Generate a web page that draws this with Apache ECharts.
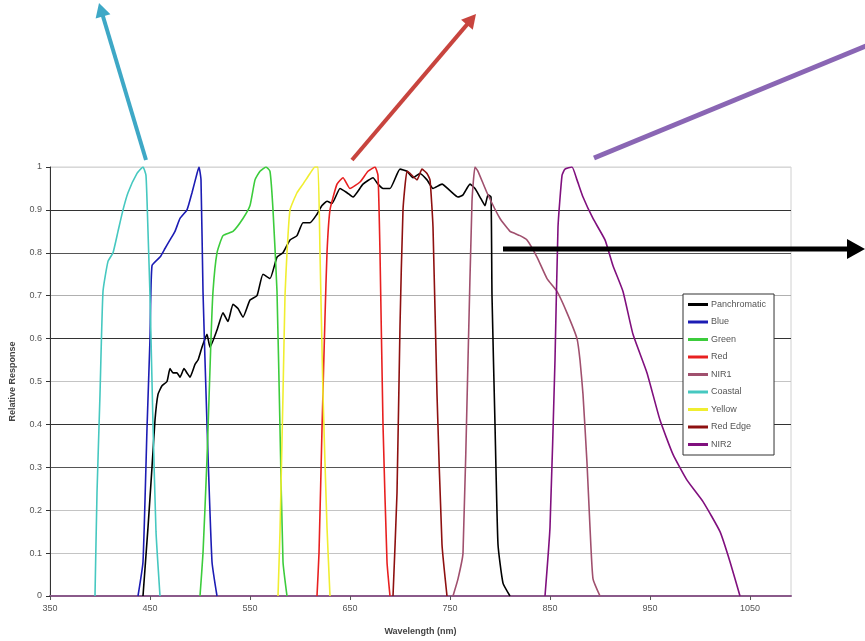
<!DOCTYPE html>
<html>
<head>
<meta charset="utf-8">
<script src="https://cdn.jsdelivr.net/npm/echarts@6/dist/echarts.min.js"></script>
<style>
html,body{margin:0;padding:0;background:#fff;}
#c{width:865px;height:641px;}
</style>
</head>
<body>
<div id="c"></div>
<script>
// ---- data: [wavelength nm, relative response] ----
const seriesNames = ['Panchromatic','Blue','Green','Red','NIR1','Coastal','Yellow','Red Edge','NIR2'];
const xTicks = [350,450,550,650,750,850,950,1050];
const yTicks = [0,0.1,0.2,0.3,0.4,0.5,0.6,0.7,0.8,0.9,1];

const panchromatic = [[443,0],[448,0.16],[452,0.3],[455,0.41],[458,0.47],[462,0.49],[467,0.5],[470,0.53],[473,0.52],[477,0.52],[480,0.51],[484,0.53],[487,0.52],[490,0.51],[495,0.54],[498,0.55],[502,0.58],[507,0.61],[510,0.58],[517,0.62],[523,0.66],[528,0.64],[533,0.68],[538,0.67],[543,0.65],[550,0.69],[557,0.7],[563,0.75],[570,0.74],[577,0.79],[583,0.8],[590,0.83],[597,0.84],[603,0.87],[610,0.87],[617,0.89],[622,0.91],[627,0.92],[632,0.915],[640,0.95],[647,0.94],[653,0.93],[663,0.96],[673,0.975],[678,0.96],[683,0.95],[690,0.95],[700,0.995],[707,0.99],[713,0.975],[720,0.985],[727,0.97],[733,0.95],[742,0.96],[750,0.945],[758,0.93],[763,0.935],[770,0.96],[775,0.95],[780,0.93],[785,0.91],[788,0.935],[791,0.93],[792,0.7],[795,0.4],[798,0.12],[803,0.03],[810,0]];
const blue = [[438,0],[443,0.08],[447,0.39],[450,0.6],[452,0.77],[460,0.79],[465,0.81],[470,0.83],[475,0.85],[480,0.88],[487,0.9],[492,0.94],[497,0.985],[499,1.0],[501,0.97],[503,0.71],[507,0.4],[512,0.08],[517,0]];
const green = [[500,0],[503,0.1],[507,0.32],[511,0.6],[513,0.71],[517,0.8],[523,0.84],[533,0.85],[543,0.88],[550,0.91],[555,0.97],[560,0.99],[566,1.0],[570,0.99],[573,0.9],[577,0.71],[580,0.39],[583,0.08],[587,0]];
const red = [[617,0],[619,0.1],[622,0.39],[625,0.65],[627,0.8],[630,0.9],[637,0.96],[643,0.975],[650,0.95],[660,0.965],[668,0.99],[675,1.0],[678,0.98],[680,0.8],[683,0.4],[687,0.08],[690,0]];
const nir1 = [[753,0],[758,0.04],[763,0.1],[768,0.55],[772,0.92],[775,1.0],[778,0.99],[787,0.94],[800,0.88],[810,0.85],[815,0.845],[820,0.84],[827,0.83],[837,0.79],[847,0.74],[857,0.71],[867,0.66],[877,0.6],[880,0.55],[883,0.47],[887,0.31],[890,0.16],[893,0.04],[900,0]];
const coastal = [[395,0],[397,0.24],[400,0.47],[403,0.71],[408,0.78],[413,0.8],[418,0.85],[423,0.9],[428,0.94],[437,0.985],[443,1.0],[446,0.98],[448,0.85],[450,0.7],[453,0.4],[456,0.15],[460,0]];
const yellow = [[578,0],[580,0.15],[583,0.47],[585,0.7],[587,0.8],[590,0.9],[597,0.94],[603,0.96],[610,0.985],[615,1.0],[618,1.0],[620,0.8],[623,0.47],[627,0.16],[630,0]];
const redEdge = [[693,0],[697,0.24],[700,0.63],[703,0.9],[707,0.99],[710,0.985],[717,0.97],[722,0.995],[727,0.985],[730,0.97],[733,0.86],[737,0.47],[742,0.12],[747,0]];
const nir2 = [[845,0],[850,0.16],[855,0.55],[858,0.86],[862,0.98],[865,0.995],[872,1.0],[877,0.97],[883,0.93],[893,0.88],[905,0.83],[913,0.77],[923,0.71],[933,0.61],[947,0.52],[960,0.41],[973,0.33],[987,0.27],[1003,0.22],[1020,0.15],[1030,0.08],[1040,0]];

const seriesData = [panchromatic, blue, green, red, nir1, coastal, yellow, redEdge, nir2];
const seriesColors = ['#000000','#1c1cb4','#3ccc3c','#e82020','#a0506e','#46c8c0','#f0ee30','#8e1010','#80107e'];

// ---- chart ----
const chart = echarts.init(document.getElementById('c'), null, {renderer:'canvas'});

function arrow(x1,y1,x2,y2,color,width,head){
  const els = [{type:'line', shape:{x1:x1,y1:y1,x2:x2,y2:y2}, style:{stroke:color,lineWidth:width,lineCap:'butt'}, z:100}];
  if (head){
    const a = Math.atan2(y2-y1,x2-x1), L = head, W = head*0.55;
    const bx = x2 - L*Math.cos(a), by = y2 - L*Math.sin(a);
    els[0].shape.x2 = bx + 1*Math.cos(a); els[0].shape.y2 = by + 1*Math.sin(a);
    els.push({type:'polygon', shape:{points:[[x2,y2],[bx + W*Math.sin(a), by - W*Math.cos(a)],[bx - W*Math.sin(a), by + W*Math.cos(a)]]}, style:{fill:color}, z:100});
  }
  return els;
}

const gridColors = ['#888','#c4c4c4','#c4c4c4','#555','#333','#c4c4c4','#333','#b0b0b0','#555','#333','#d8d8d8'];

const option = {
  backgroundColor:'#fff',
  animation:false,
  grid:{left:50,right:74,top:167,bottom:45,containLabel:false,outerBoundsMode:'none',show:true,borderColor:'#d0d0d0',borderWidth:1,backgroundColor:'transparent'},
  xAxis:{
    type:'value', min:350, max:1091, interval:100,
    name:'Wavelength (nm)', nameLocation:'middle', nameGap:31,
    nameTextStyle:{fontFamily:'Liberation Sans, Arial', fontSize:9, fontWeight:'bold', color:'#444'},
    axisLine:{show:true, onZero:false, lineStyle:{color:'#8a5a8a', width:2}},
    axisTick:{show:true, length:4, lineStyle:{color:'#555'}},
    axisLabel:{showMaxLabel:false, fontFamily:'Liberation Sans, Arial', fontSize:9, color:'#555', margin:8,
      formatter:function(v){ return xTicks.indexOf(v) >= 0 ? String(v) : ''; }},
    splitLine:{show:false}
  },
  yAxis:{
    type:'value', min:0, max:1, interval:0.1,
    name:'Relative Response', nameLocation:'middle', nameGap:33, nameRotate:90,
    nameTextStyle:{fontFamily:'Liberation Sans, Arial', fontSize:9, fontWeight:'bold', color:'#444'},
    axisLine:{show:true, lineStyle:{color:'#333', width:1}},
    axisTick:{show:true, length:4, lineStyle:{color:'#333'}},
    axisLabel:{fontFamily:'Liberation Sans, Arial', fontSize:9, color:'#555', margin:8,
      formatter:function(v){ const r = Math.round(v*10)/10; return yTicks.indexOf(r) >= 0 ? String(r) : ''; }},
    splitLine:{show:true, lineStyle:{color:gridColors, width:1.2}}
  },
  legend:{
    orient:'vertical', left:683, top:294,
    data: seriesNames,
    icon:'rect', itemWidth:20, itemHeight:3, itemGap:6.5,
    backgroundColor:'#fff', borderColor:'#333', borderWidth:1, borderRadius:0,
    padding:[5,8,5,5],
    textStyle:{fontFamily:'Liberation Sans, Arial', fontSize:9, color:'#555', lineHeight:11, padding:[0,0,0,-2]}
  },
  series: seriesNames.map(function(n,i){
    return {
      name:n, type:'line', data:seriesData[i], showSymbol:false, symbol:'none',
      smooth:0.15, color:seriesColors[i],
      lineStyle:{color:seriesColors[i], width:1.6},
      z: 2 + i
    };
  }),
  graphic: [].concat(
    arrow(146,160,99,3,'#3ea8c6',4,14),
    arrow(352,160,476,14,'#c8443e',4,14),
    arrow(594,158,866,46,'#8a66b4',5,0),
    arrow(503,249,865,249,'#000000',5,18)
  )
};
chart.setOption(option);
</script>
</body>
</html>
